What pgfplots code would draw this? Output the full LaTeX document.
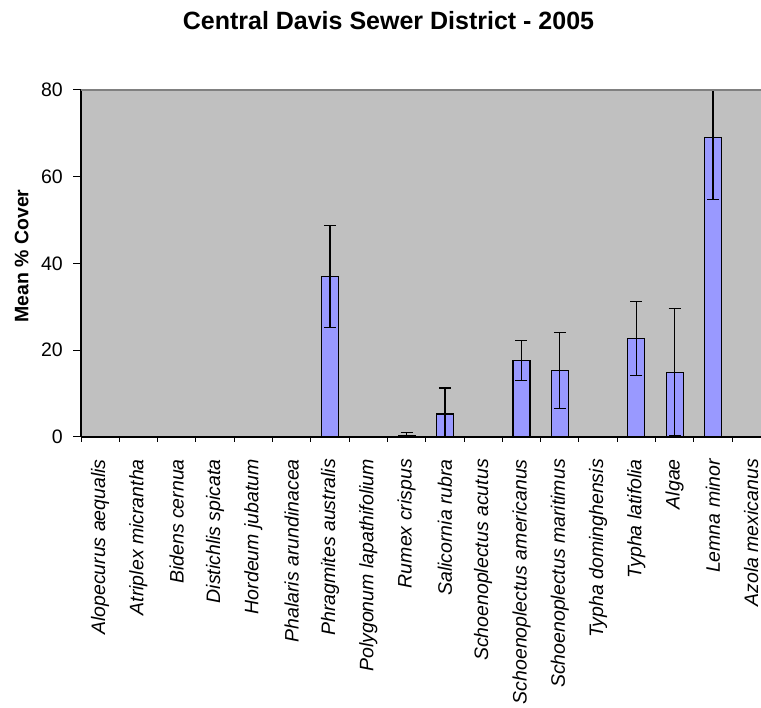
\documentclass[border=0pt]{standalone}
\usepackage{pgfplots}
\usepackage{pgfplotstable}
\pgfplotsset{compat=1.18}
\usepackage{fontspec}
\setmainfont{Liberation Sans}

\definecolor{barfill}{HTML}{9999FF}
\definecolor{plotbg}{HTML}{C0C0C0}
\definecolor{framegray}{HTML}{808080}

% mean cover and error, one row per species (idx = position on x)
\pgfplotstableread{
idx val err
0  0    0
1  0    0
2  0    0
3  0    0
4  0    0
5  0    0
6  37.0 11.8
7  0    0
8  0.4  0.6
9  5.3  6.0
10 0    0
11 17.7 4.6
12 15.3 8.8
13 0    0
14 22.7 8.5
15 14.9 14.7
16 69.1 14.3
17 0    0
}\covertable

\begin{document}
\begin{tikzpicture}[x=1pt,y=1pt]
\useasboundingbox (0,0) rectangle (761,708);
\node[font=\bfseries\fontsize{25}{30}\selectfont, anchor=base] at (388.5,678) {Central Davis Sewer District - 2005};
\node[font=\bfseries\fontsize{19.5}{23}\selectfont, rotate=90, anchor=base west, inner sep=0pt] at (28.3,385) {Mean \% Cover};
\begin{axis}[
  name=ax,
  at={(81pt,271pt)}, anchor=south west,
  scale only axis, width=680pt, height=347pt,
  xmin=-0.5, xmax=17.254, ymin=0, ymax=80,
  ybar, bar width=17pt,
  clip mode=individual,
  axis background/.style={fill=plotbg},
  axis line style={draw=none},
  tick align=outside,
  xtick pos=left, ytick pos=left,
  major tick length=8pt,
  tick style={black, line width=1pt},
  xtick=\empty,
  extra x ticks={0,...,17},
  extra x tick labels={Alopecurus aequalis, Atriplex micrantha, Bidens cernua, Distichlis spicata, Hordeum jubatum, Phalaris arundinacea, Phragmites australis, Polygonum lapathifolium, Rumex crispus, Salicornia rubra, Schoenoplectus acutus, Schoenoplectus americanus, Schoenoplectus maritimus, Typha dominghensis, Typha latifolia, Algae, Lemna minor, Azola mexicanus},
  extra x tick style={major tick length=0pt},
  ytick={0,20,...,80},
  /pgf/number format/assume math mode=true,
  yticklabel style={font=\fontsize{19.5}{23}\selectfont, inner sep=0pt, xshift=-10pt},
  xticklabel style={font=\itshape\fontsize{19.5}{23}\selectfont, rotate=90, anchor=east, inner sep=0pt},
  xticklabel shift=22pt,
]
\addplot[fill=barfill, draw=black, line width=1.1pt,
  error bars/.cd, y dir=both, y explicit,
  error bar style={black, line width=1.3pt},
  error mark options={black, line width=1.3pt, mark size=6pt, rotate=90}]
  table[x=idx, y=val, y error=err] {\covertable};
% positions of the tick marks between the categories
\pgfplotsinvokeforeach{0,...,17}{
  \coordinate (b#1) at (axis cs:#1-0.5,0);
}
\end{axis}
\draw[black, line width=1.3pt] (ax.south west) -- (ax.north west);
\draw[black, line width=1.3pt] (ax.south west) -- (ax.south east);
\draw[framegray, line width=1.5pt] (ax.north west) -- (ax.north east);
\foreach \k in {0,...,17} {
  \draw[black, line width=1pt] (b\k) -- ++(0,-5pt);
}
\end{tikzpicture}
\end{document}
